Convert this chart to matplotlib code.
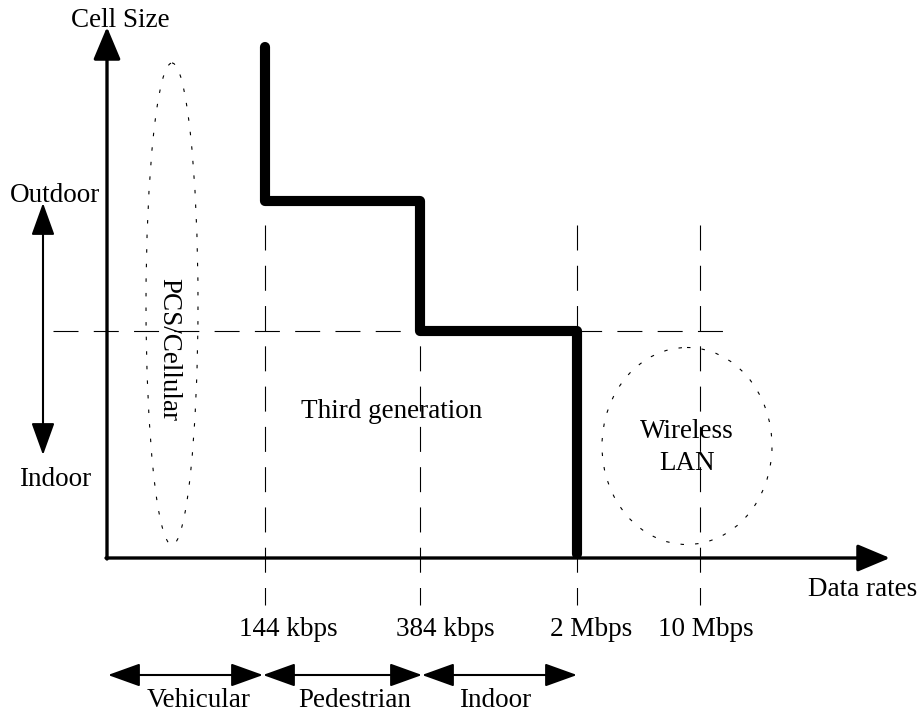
import matplotlib.pyplot as plt
from matplotlib.patches import Ellipse

plt.rcParams['font.family'] = ['Liberation Serif', 'DejaVu Serif']
plt.rcParams['lines.scale_dashes'] = False

# data (diagram units = reference pixels, y down)
rate_labels = ['144 kbps', '384 kbps', '2 Mbps', '10 Mbps']
rate_x = [265, 420, 577, 700]
step_x = [265, 265, 420, 420, 577, 577]
step_y = [47, 201, 201, 331, 331, 554]
mobility = ['Vehicular', 'Pedestrian', 'Indoor']
mobility_edges = [108, 263, 422, 577]

fig = plt.figure(figsize=(9.22, 7.15), dpi=100)
ax = fig.add_axes([0, 0, 1, 1])
ax.set_xlim(0, 922)
ax.set_ylim(715, 0)
ax.axis('off')

fs = 19.5
head = dict(arrowstyle='-|>,head_length=1.0,head_width=0.42', mutation_scale=20,
            lw=2.4, color='black', shrinkA=0, shrinkB=0)
dbl = dict(arrowstyle='<|-|>,head_length=1.0,head_width=0.36', mutation_scale=20,
           lw=1.5, color='black', shrinkA=0, shrinkB=0)

# axes
x0, y0 = 107, 558
ax.annotate('', xy=(x0, 27), xytext=(x0, y0 + 1), arrowprops=head)
ax.annotate('', xy=(890, y0), xytext=(x0 - 1, y0), arrowprops=head)

# dashed guides
for x in rate_x:
    ax.plot([x, x], [225, 605], color='black', lw=0.8, dashes=(18, 11))
ax.plot([53, 735], [331, 331], color='black', lw=0.8, dashes=(18, 11))

# step line
ax.plot(step_x, step_y, color='black', lw=7.3, solid_capstyle='round',
        solid_joinstyle='round')

# dotted regions
ax.add_patch(Ellipse((172, 304), 52, 482, fill=False, lw=0.8, ls=(0, (2.5, 8))))
ax.add_patch(Ellipse((687, 446), 170, 197, fill=False, lw=0.8, ls=(0, (2.5, 8))))

# vertical outdoor/indoor arrow
ax.annotate('', xy=(43, 203), xytext=(43, 455), arrowprops=dbl)

# text
ax.text(120, 27, 'Cell Size', fontsize=fs, ha='center', va='baseline')
ax.text(55, 202, 'Outdoor', fontsize=fs, ha='center', va='baseline')
ax.text(55, 486, 'Indoor', fontsize=fs, ha='center', va='baseline')
ax.text(169, 349, 'PCS/Cellular', fontsize=fs, ha='center', va='center', rotation=-90)
ax.text(392, 418, 'Third generation', fontsize=fs, ha='center', va='baseline')
ax.text(687, 438, 'Wireless', fontsize=fs, ha='center', va='baseline')
ax.text(687, 470, 'LAN', fontsize=fs, ha='center', va='baseline')
ax.text(863, 596, 'Data rates', fontsize=fs, ha='center', va='baseline')

label_x = [288, 445, 591, 706]
for x, lab in zip(label_x, rate_labels):
    ax.text(x, 636, lab, fontsize=fs, ha='center', va='baseline')

# bottom mobility arrows
for i in range(len(mobility)):
    a, b = mobility_edges[i], mobility_edges[i + 1]
    ax.annotate('', xy=(b, 675), xytext=(a, 675), arrowprops=dbl)
mob_x = [199, 355, 495]
for x, lab in zip(mob_x, mobility):
    ax.text(x, 707, lab, fontsize=fs, ha='center', va='baseline')

fig.savefig('out.png', dpi=100)
